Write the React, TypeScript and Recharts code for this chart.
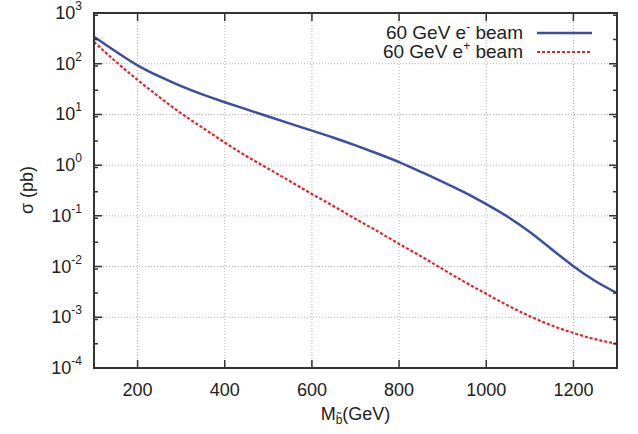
import { LineChart, Line, XAxis, YAxis, CartesianGrid } from "recharts"

// sbottom mass (GeV) and cross sections (pb)
const massGeV = [
  100, 150, 200, 250, 300, 350, 400, 450, 500, 550, 600, 650, 700, 750, 800,
  850, 900, 950, 1000, 1050, 1100, 1150, 1200, 1250, 1300,
]
const electronBeam = [
  339, 174, 93, 56, 36, 24.5, 17.4, 12.6, 9.1, 6.6, 4.8, 3.47, 2.45, 1.7, 1.15,
  0.74, 0.47, 0.29, 0.17, 0.095, 0.048, 0.022, 0.0102, 0.0052, 0.003,
]
const positronBeam = [
  269, 110, 48, 22, 10.5, 5.4, 2.8, 1.5, 0.85, 0.48, 0.27, 0.155, 0.087, 0.05,
  0.028, 0.016, 0.0089, 0.005, 0.0029, 0.0017, 0.00105, 0.00069, 0.00049,
  0.00037, 0.0003,
]
const seriesNames = ["60 GeV e", "60 GeV e"]
const seriesCharges = ["-", "+"]
const seriesColors = ["#3d4e9e", "#e3232b"]

const xTicks = [200, 400, 600, 800, 1000, 1200]
const yExponents = [-4, -3, -2, -1, 0, 1, 2, 3]

const rows = massGeV.map((m, i) => ({
  m,
  eMinus: electronBeam[i],
  ePlus: positronBeam[i],
}))
const yTicks = yExponents.map((e) => Math.pow(10, e))
const yMinorTicks = yExponents
  .slice(0, -1)
  .flatMap((e) => [2, 3, 4, 5, 6, 7, 8, 9].map((k) => k * Math.pow(10, e)))

const FONT = "'Liberation Sans', Arial, sans-serif"
const FRAME = "#333333"
const W = 638
const H = 434
const PLOT = { left: 94, right: 617, top: 13, bottom: 368 }

// y labels (10^n) plus the inward major ticks on both sides
function PowerTick({ y, payload }: any) {
  const exp = Math.round(Math.log10(payload.value))
  return (
    <g>
      <text x={PLOT.left - 12} y={y} textAnchor="end" fill="#222" fontSize={18} fontFamily={FONT}>
        <tspan dy={6}>10</tspan>
        <tspan dy={-9} fontSize={12}>
          {exp}
        </tspan>
      </text>
      <path d={`M${PLOT.left},${y}h8M${PLOT.right},${y}h-8`} stroke={FRAME} strokeWidth={1.5} fill="none" />
    </g>
  )
}

function MinorYTick({ y }: any) {
  return (
    <path d={`M${PLOT.left},${y}h4M${PLOT.right},${y}h-4`} stroke={FRAME} strokeWidth={1.5} fill="none" />
  )
}

function XTickMarks({ x }: any) {
  return (
    <path d={`M${x},${PLOT.top}v8M${x},${PLOT.bottom}v-8`} stroke={FRAME} strokeWidth={1.5} fill="none" />
  )
}

export default function App() {
  const xDomain: [number, number] = [100, 1300]
  const yDomain: [number, number] = [1e-4, 1e3]
  return (
    <div style={{ position: "absolute", left: 0, top: 0, width: W, height: H, background: "#fff" }}>
      <LineChart
        width={W}
        height={H}
        data={rows}
        margin={{ top: 0, right: 0, bottom: 0, left: 0 }}
      >
        <CartesianGrid xAxisId="main" yAxisId="main" stroke="#b0b0b0" strokeDasharray="1 2" />
        <XAxis
          xAxisId="main"
          dataKey="m"
          type="number"
          domain={xDomain}
          ticks={xTicks}
          allowDataOverflow
          height={H - PLOT.bottom}
          tickLine={false}
          axisLine={false}
          tickSize={0}
          tickMargin={15}
          tick={{ fill: "#222", fontSize: 18, fontFamily: FONT }}
        />
        <XAxis
          xAxisId="marks"
          dataKey="m"
          type="number"
          orientation="top"
          domain={xDomain}
          ticks={xTicks}
          allowDataOverflow
          height={PLOT.top}
          tickLine={false}
          axisLine={false}
          tickSize={0}
          tickMargin={0}
          tick={<XTickMarks />}
        />
        <YAxis
          yAxisId="main"
          scale="log"
          domain={yDomain}
          ticks={yTicks}
          allowDataOverflow
          width={PLOT.left}
          tickLine={false}
          axisLine={false}
          tickSize={0}
          tickMargin={12}
          tick={<PowerTick />}
        />
        <YAxis
          yAxisId="minor"
          orientation="right"
          scale="log"
          domain={yDomain}
          ticks={yMinorTicks}
          allowDataOverflow
          width={W - PLOT.right}
          tickLine={false}
          axisLine={false}
          tickSize={0}
          tickMargin={0}
          tick={<MinorYTick />}
        />
        {/* hidden series so the marks-only axes are laid out */}
        <Line
          xAxisId="marks"
          yAxisId="minor"
          dataKey="eMinus"
          stroke="none"
          dot={false}
          activeDot={false}
          legendType="none"
          isAnimationActive={false}
        />
        <Line
          xAxisId="main"
          yAxisId="main"
          type="natural"
          dataKey="eMinus"
          stroke={seriesColors[0]}
          strokeWidth={2.5}
          dot={false}
          isAnimationActive={false}
        />
        <Line
          xAxisId="main"
          yAxisId="main"
          type="natural"
          dataKey="ePlus"
          stroke={seriesColors[1]}
          strokeWidth={2.2}
          strokeDasharray="3 2"
          dot={false}
          isAnimationActive={false}
        />
      </LineChart>
      <svg
        width={W}
        height={H}
        style={{ position: "absolute", left: 0, top: 0, pointerEvents: "none" }}
        fontFamily={FONT}
        fill="#222"
      >
        <rect
          x={PLOT.left}
          y={PLOT.top}
          width={PLOT.right - PLOT.left}
          height={PLOT.bottom - PLOT.top}
          fill="none"
          stroke={FRAME}
          strokeWidth={2}
        />
        {seriesNames.map((name, i) => (
          <g key={i}>
            <text x={523} y={39 + i * 19} textAnchor="end" fontSize={19}>
              {name}
              <tspan dy={-8} fontSize={12}>
                {seriesCharges[i]}
              </tspan>
              <tspan dy={8}> beam</tspan>
            </text>
            <line
              x1={537}
              x2={592}
              y1={33 + i * 19}
              y2={33 + i * 19}
              stroke={seriesColors[i]}
              strokeWidth={i === 0 ? 2.5 : 2.2}
              strokeDasharray={i === 0 ? undefined : "3 2"}
            />
          </g>
        ))}
        <text
          x={27}
          y={190}
          textAnchor="middle"
          fontSize={18}
          transform="rotate(-90 27 190)"
          dy={6}
        >
          σ (pb)
        </text>
        <text x={(PLOT.left + PLOT.right) / 2} y={420} textAnchor="middle" fontSize={18}>
          M
          <tspan dy={4} fontSize={12}>
            b̃
          </tspan>
          <tspan dy={-4}>(GeV)</tspan>
        </text>
      </svg>
    </div>
  )
}
